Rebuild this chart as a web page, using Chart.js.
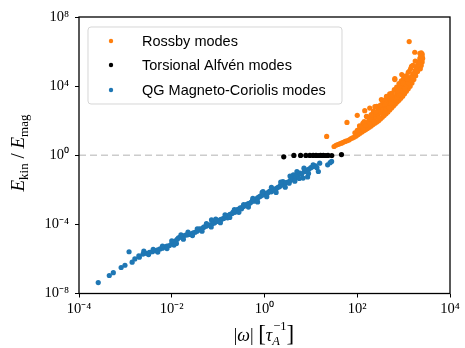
<!DOCTYPE html>
<html>
<head>
<meta charset="utf-8">
<script src="https://cdn.jsdelivr.net/npm/chart.js@4/dist/chart.umd.min.js"></script>
<style>
html,body{margin:0;padding:0;background:#fff;}
canvas{display:block;}
</style>
</head>
<body>
<canvas id="c" width="465" height="348"></canvas>
<script>
// ---- data ----
const seriesLabels = ['Rossby modes', 'Torsional Alfvén modes', 'QG Magneto-Coriolis modes'];
const seriesColors = ['#ff7f0e', '#000000', '#1f77b4'];

const xTickValues = [1e-4, 1e-2, 1e0, 1e2, 1e4];
const xTickLabels = ['10⁻⁴', '10⁻²', '10⁰', '10²', '10⁴'];
const yTickValues = [1e-8, 1e-4, 1e0, 1e4, 1e8];
const yTickLabels = ['10⁻⁸', '10⁻⁴', '10⁰', '10⁴', '10⁸'];

const refLineX = [1e-4, 1e4];
const refLineY = [1, 1];

// Rossby modes: [|omega|, Ekin/Emag]
const rossbyPoints = [
  [21.9,12.3],[60,79],[100,204],[1318,3.8e6],[1738,9.1e5],
  [31.6,3.2],[34.7,3.8],[38,4.2],[41.7,4.6],[45.7,5.0],[50,5.6],[55,6.3],[60,6.9],[66,7.6],
  [72,8.9],[79,10],[87,11.2],[95,13.2],[105,15.8],[115,19],[126,22.4],[138,26.3],[151,30],
  [166,35.5],[182,41.7],[200,50],[219,60],[240,71],[263,83],[288,100],[316,126],[347,158],
  [380,200],[417,251],[457,316],[501,417],[550,550],[603,708],[661,912],[724,1202],[794,1514],
  [871,2000],[955,2630],[1047,3630],[1148,5010],[1259,7080],[1380,1.0e4],[1514,1.51e4],
  [1660,2.4e4],[1820,4.0e4],[1995,7.1e4],[2138,1.12e5],[2291,2.0e5],[2399,3.16e5],[2512,5.0e5],
  [2512,7.1e5],[2399,8.3e5],[2239,7.9e5],[2570,4.0e5],[2512,2.5e5],[2399,1.58e5],[2291,1.0e5],
  [89,20],[100,28],[112,31.6],[126,40],[132,71],[141,50],[158,63],[158,178],[178,79],[186,537],
  [200,100],[214,141],[229,126],[251,200],[263,676],[275,282],[302,316],[316,501],[331,1660],
  [355,447],[380,794],[398,631],[427,2570],[447,1000],[479,1259],[501,891],[525,1778],[562,1413],
  [603,2512],[646,2.4e4],[661,2000],[708,3548],[759,2818],[794,5012],[832,9772],[891,3981],
  [933,7079],[1000,5623],[1072,2.4e4],[1122,1.0e4],[1202,1.58e4],[1318,7.2e4],[1259,3.16e4],
  [1413,2.8e4],[1479,1.41e5],[1585,5.0e4],[1778,7.9e4],[1905,1.26e5],
  [105,28],[120,42],[132,35.5],[151,56],[174,89],[191,66],[209,112],[229,89],[251,158],[282,224],
  [295,141],[331,282],[363,398],[398,316],[417,562],[457,708],[490,562],[525,1000],[575,1122],
  [617,1585],[676,1585],[724,2239],[794,3162],[851,3548],[912,5012],[1000,8913],[1072,7079],
  [1148,1.26e4],[1259,1.58e4],[1349,2.24e4],[1479,3.55e4],[1585,3.16e4],[1698,5.6e4],[1862,8.9e4],
  [1995,1.58e5],[2089,2.5e5],[2239,4.0e5],[2344,5.6e5],[355,794],[501,1995],[708,5012],
  [891,1.26e4],[417,1259],[282,398],[224,251],
  [112,50],[141,89],[178,141],[200,224],[224,355],[251,316],[282,562],[316,794],[355,1259],
  [398,1585],[447,2239],[501,3548],[562,3981],[631,6310],[708,8913],[794,1.41e4],[891,2.0e4],
  [1000,2.8e4],[1122,3.98e4],[1259,6.3e4],[1413,1.0e5],[1585,1.58e5],[1778,2.8e5],[398,891],
  [525,2818],[759,5623],[955,1.58e4],[1202,2.5e4],[240,646],[145,380],[162,170],[912,4.68e4],
  [646,2.7e4]
];

// Torsional Alfven modes
const torsionalPoints = [
  [2.6,0.81],[4.3,0.98],[6.0,0.98],[7.8,0.98],[9.5,0.98],[11.2,0.98],[12.9,0.98],
  [14.5,0.97],[16.2,0.98],[18.6,0.98],[20.9,0.97],[23.4,0.98],[28.2,0.97],[45.7,1.1]
];

// QG Magneto-Coriolis modes
const qgmcPoints = [
  [2.6e-4,4.3e-8],[4.5e-4,1.1e-7],[5.5e-4,1.6e-7],[8.1e-4,3.2e-7],[9.8e-4,4.3e-7],[1.2e-3,2.6e-6],
  [1.4e-3,6.5e-7],[1.6e-3,1.0e-6],[1.95e-3,1.5e-6],[2.0e-3,1.26e-6],[2.4e-3,1.9e-6],[2.8e-3,2.1e-6],
  [3.3e-3,2.4e-6],[3.8e-3,2.6e-6],[4.4e-3,3.0e-6],[5.0e-3,3.4e-6],[5.6e-3,3.8e-6],[6.3e-3,4.2e-6],
  [7.1e-3,5.0e-6],[7.9e-3,5.6e-6],[8.9e-3,6.0e-6],[1.0e-2,7.6e-6],[1.07e-2,8.9e-6],[1.12e-2,6.3e-6],
  [1.2e-2,1.12e-5],[1.32e-2,1.4e-5],[1.4e-2,1.66e-5],[1.5e-2,1.8e-5],[1.66e-2,2.0e-5],[1.8e-2,2.2e-5],
  [2.0e-2,2.4e-5],[2.2e-2,2.5e-5],[2.4e-2,2.6e-5],[2.6e-2,2.8e-5],[2.9e-2,3.2e-5],[3.2e-2,3.5e-5],
  [3.5e-2,4.0e-5],[3.8e-2,4.8e-5],[4.0e-2,5.6e-5],[4.4e-2,5.2e-5],[4.7e-2,6.3e-5],[5.0e-2,7.1e-5],
  [5.5e-2,7.9e-5],[6.0e-2,8.9e-5],[6.6e-2,9.5e-5],[7.2e-2,1.8e-4],[7.6e-2,1.12e-4],[8.3e-2,1.2e-4],
  [8.9e-2,1.4e-4],[9.5e-2,1.5e-4],[1.05e-1,1.66e-4],[1.12e-1,1.9e-4],[1.2e-1,2.0e-4],[1.32e-1,2.2e-4],
  [1.4e-1,2.5e-4],[1.5e-1,2.8e-4],[1.6e-1,2.4e-4],[1.7e-1,3.3e-4],[1.8e-1,3.8e-4],[2.0e-1,4.2e-4],
  [2.1e-1,5.2e-4],[2.3e-1,5.0e-4],[2.45e-1,6.0e-4],[2.6e-1,7.1e-4],[2.8e-1,7.6e-4],[3.0e-1,8.9e-4],
  [3.2e-1,7.9e-4],[3.4e-1,1.05e-3],[3.6e-1,1.12e-3],[3.9e-1,1.3e-3],[4.2e-1,1.45e-3],[4.5e-1,1.6e-3],
  [4.8e-1,1.66e-3],[5.1e-1,1.9e-3],[5.5e-1,2.4e-3],[5.9e-1,2.2e-3],[6.3e-1,2.8e-3],[6.8e-1,3.0e-3],
  [7.2e-1,3.5e-3],[7.8e-1,4.0e-3],[8.3e-1,4.4e-3],[8.9e-1,5.0e-3],[9.3e-1,7.9e-3],[9.8e-1,5.2e-3],
  [1.05,6.0e-3],[1.12,5.6e-3],[1.2,7.1e-3],[1.3,8.3e-3],[1.4,7.6e-3],[1.5,9.5e-3],[1.6,1.05e-2],
  [1.7,8.9e-3],[1.8,1.2e-2],[1.95,1.4e-2],[2.1,1.5e-2],[2.2,1.8e-2],[2.4,1.9e-2],[2.5,3.0e-2],
  [2.7,2.2e-2],[2.9,2.6e-2],[3.2,2.8e-2],[3.4,2.4e-2],[3.6,3.5e-2],[4.0,4.0e-2],[4.2,7.4e-2],
  [4.5,4.8e-2],[4.8,5.2e-2],[5.2,6.6e-2],[5.8,9.3e-2],[6.3,7.9e-2],[6.8,4.8e-2],[7.2,1.12e-1],
  [7.9,1.4e-1],[8.5,5.6e-2],[9.1,1.6e-1],[10,1.9e-1],[11.2,2.2e-1],[12.6,2.4e-1],[13.5,1.9e-1],
  [14.5,1.15e-1],[15.5,3.5e-1],[23,2.8e-1],[28,4.4e-1],[26,3.7e-1],
  [2.5e-3,2.8e-6],[3.16e-3,1.78e-6],[3.98e-3,3.55e-6],[5.0e-3,2.5e-6],[6.3e-3,5.6e-6],[7.9e-3,4.0e-6],
  [1.0e-2,1.12e-5],[1.26e-2,7.9e-6],[1.58e-2,2.5e-5],[1.78e-2,1.4e-5],[2.24e-2,3.55e-5],[2.8e-2,2.24e-5],
  [3.55e-2,5.6e-5],[4.5e-2,4.0e-5],[5.6e-2,1.12e-4],[7.1e-2,7.1e-5],[8.9e-2,2.0e-4],[1.12e-1,1.26e-4],
  [1.41e-1,3.55e-4],[1.78e-1,2.5e-4],[2.24e-1,7.1e-4],[2.8e-1,5.0e-4],[3.55e-1,1.41e-3],[4.5e-1,1.0e-3],
  [5.6e-1,3.16e-3],[7.1e-1,2.0e-3],[8.9e-1,7.1e-3],[1.12,4.0e-3],[1.41,1.41e-2],[1.78,7.1e-3],
  [2.24,2.8e-2],[2.8,1.41e-2],[3.55,6.3e-2],[4.5,3.16e-2],[5.0,1.12e-1],[5.6,4.5e-2],[7.1,1.78e-1],
  [8.9,8.9e-2],[11.2,2.8e-1]
];

// ---- chart ----
const toXY = arr => arr.map(p => ({x: p[0], y: p[1]}));

function drawRich(ctx, parts, cx, cy, angle) {
  const widths = parts.map(p => {
    if (p.stack) {
      ctx.font = p.supFont; const a = ctx.measureText(p.sup).width + (p.supDx || 0);
      ctx.font = p.subFont; const b = ctx.measureText(p.sub).width;
      return Math.max(a, b);
    }
    ctx.font = p.f; return ctx.measureText(p.t).width;
  });
  let w = 0;
  widths.forEach(v => w += v);
  ctx.save();
  ctx.translate(cx, cy);
  ctx.rotate(angle);
  ctx.textBaseline = 'alphabetic';
  ctx.textAlign = 'left';
  ctx.fillStyle = '#000';
  let x = -w / 2;
  parts.forEach((p, i) => {
    if (p.stack) {
      ctx.font = p.supFont; ctx.fillText(p.sup, x + (p.supDx || 0), p.supDy);
      ctx.font = p.subFont; ctx.fillText(p.sub, x, p.subDy);
    } else {
      ctx.font = p.f; ctx.fillText(p.t, x, p.dy || 0);
    }
    x += widths[i];
  });
  ctx.restore();
}

const decor = {
  id: 'decor',
  afterDraw(chart) {
    const ctx = chart.ctx, a = chart.chartArea;
    ctx.save();
    // frame
    ctx.strokeStyle = '#000';
    ctx.lineWidth = 1.3;
    ctx.strokeRect(a.left, a.top, a.right - a.left, a.bottom - a.top);

    // legend
    const lx = 88, ly = 27, lw = 254, lh = 77, r = 3;
    ctx.beginPath();
    ctx.moveTo(lx + r, ly);
    ctx.arcTo(lx + lw, ly, lx + lw, ly + lh, r);
    ctx.arcTo(lx + lw, ly + lh, lx, ly + lh, r);
    ctx.arcTo(lx, ly + lh, lx, ly, r);
    ctx.arcTo(lx, ly, lx + lw, ly, r);
    ctx.closePath();
    ctx.fillStyle = 'rgba(255,255,255,0.8)';
    ctx.fill();
    ctx.strokeStyle = 'rgba(204,204,204,0.8)';
    ctx.lineWidth = 1;
    ctx.stroke();
    ctx.font = '14.5px "Liberation Sans", Arial, sans-serif';
    ctx.textBaseline = 'middle';
    ctx.textAlign = 'left';
    const rows = [41, 65, 90];
    seriesLabels.forEach((lab, i) => {
      ctx.beginPath();
      ctx.arc(111, rows[i], 2.2, 0, Math.PI * 2);
      ctx.fillStyle = seriesColors[i];
      ctx.fill();
      ctx.fillStyle = '#000';
      ctx.fillText(lab, 142, rows[i] + 1);
    });

    // y title
    const big = 'italic 19px "Liberation Serif", serif';
    const rom = '19px "Liberation Serif", serif';
    const sub = '13px "Liberation Serif", serif';
    drawRich(ctx, [
      {t: 'E', f: big}, {t: 'kin', f: sub, dy: 4},
      {t: ' / ', f: rom},
      {t: 'E', f: big}, {t: 'mag', f: sub, dy: 4}
    ], 24, 153, -Math.PI / 2);
    // x title
    const xbig = 'italic 18px "Liberation Serif", serif';
    const xrom = '18px "Liberation Serif", serif';
    const brk = '23px "Liberation Serif", serif';
    drawRich(ctx, [
      {t: '|', f: xrom}, {t: 'ω', f: xbig}, {t: '|', f: xrom},
      {t: ' ', f: xrom}, {t: '[', f: brk},
      {t: 'τ', f: xbig},
      {stack: true, sup: '−1', supFont: '12.5px "Liberation Serif", serif', supDy: -11, supDx: 1,
        sub: 'A', subFont: 'italic 12.5px "Liberation Serif", serif', subDy: 4},
      {t: ']', f: brk}
    ], 264, 341, 0);
    ctx.restore();
  }
};

const tickFont = {family: '"Liberation Serif", serif', size: 14.5};

new Chart(document.getElementById('c'), {
  type: 'scatter',
  data: {
    datasets: [
      {
        label: 'ref', type: 'line', data: refLineX.map((x, i) => ({x, y: refLineY[i]})),
        borderColor: '#cccccc', borderWidth: 1.5, borderDash: [7, 4], pointRadius: 0,
        showLine: true, fill: false, order: 4
      },
      {label: seriesLabels[0], data: toXY(rossbyPoints), backgroundColor: seriesColors[0],
        borderWidth: 0, pointRadius: 2.6, order: 3},
      {label: seriesLabels[1], data: toXY(torsionalPoints), backgroundColor: seriesColors[1],
        borderWidth: 0, pointRadius: 2.6, order: 2},
      {label: seriesLabels[2], data: toXY(qgmcPoints), backgroundColor: seriesColors[2],
        borderWidth: 0, pointRadius: 2.6, order: 1}
    ]
  },
  options: {
    responsive: false,
    animation: false,
    devicePixelRatio: 1,
    layout: {padding: {top: 17, right: 15, left: 0, bottom: 0}},
    plugins: {legend: {display: false}, tooltip: {enabled: false}},
    scales: {
      x: {
        type: 'logarithmic', min: 1e-4, max: 1e4, position: 'bottom',
        afterBuildTicks: s => { s.ticks = xTickValues.map(v => ({value: v})); },
        afterFit: s => { s.height = 54.5; },
        ticks: {font: tickFont, color: '#000', padding: 3, maxRotation: 0, autoSkip: false,
          callback: (v, i) => xTickLabels[i]},
        grid: {drawOnChartArea: false, drawTicks: true, tickLength: 4, color: '#000', lineWidth: 1},
        border: {display: false}
      },
      y: {
        type: 'logarithmic', min: 1e-8, max: 1e8,
        afterBuildTicks: s => { s.ticks = yTickValues.map(v => ({value: v})); },
        afterFit: s => { s.width = 79; },
        ticks: {font: tickFont, color: '#000', padding: 6, autoSkip: false,
          callback: (v, i) => yTickLabels[i]},
        grid: {drawOnChartArea: false, drawTicks: true, tickLength: 4, color: '#000', lineWidth: 1},
        border: {display: false}
      }
    }
  },
  plugins: [decor]
});
</script>
</body>
</html>
